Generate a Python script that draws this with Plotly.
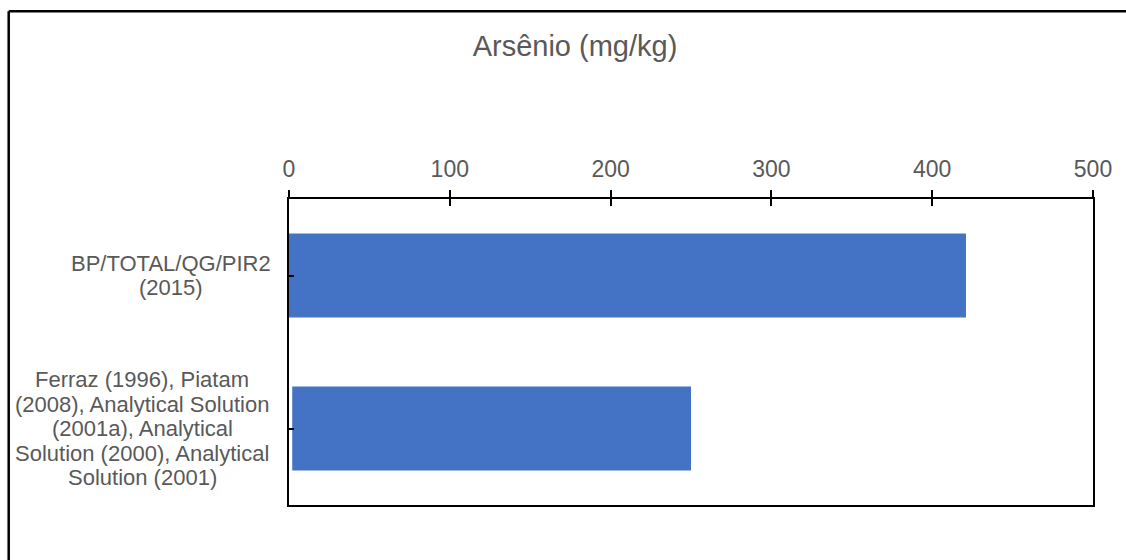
import plotly.graph_objects as go

# Arsenic concentration (mg/kg) by source
categories = [
    "BP/TOTAL/QG/PIR2<br>(2015)",
    "Ferraz (1996), Piatam<br>(2008), Analytical Solution<br>(2001a), Analytical<br>Solution (2000), Analytical<br>Solution (2001)",
]
bar_start = [0, 2]
bar_end = [421, 250]
x_ticks = [0, 100, 200, 300, 400, 500]

W, H = 1126, 560
L, R, T, B = 289, 33, 199, 55
TXT = "#595959"
BLUE = "#4472C4"
FONT = "Liberation Sans, Arial, sans-serif"
LABEL_SIZE = 22
LINE_STEP = 24.5          # px between wrapped label lines
LABEL_CENTER_PX = [171, 142]  # horizontal centre of each wrapped label block

fig = go.Figure()
fig.add_trace(go.Bar(
    y=list(range(len(categories))),
    x=[e - s for s, e in zip(bar_start, bar_end)],
    base=bar_start,
    orientation="h",
    marker=dict(color=BLUE, line=dict(width=0)),
    hoverinfo="skip",
    showlegend=False,
))
# second, overlaying axis only carries the inner half of the crossing ticks
fig.add_trace(go.Scatter(x=[None], y=[None], xaxis="x2", showlegend=False))

fig.update_layout(
    width=W, height=H,
    margin=dict(l=L, r=R, t=T, b=B),
    paper_bgcolor="white", plot_bgcolor="white",
    font=dict(family=FONT, color=TXT),
    bargap=0.45,
    title=dict(text="Arsênio (mg/kg)", x=575 / W, xanchor="center",
               y=1 - 46 / H, yanchor="middle", yref="container",
               font=dict(size=29, color=TXT, family=FONT)),
    xaxis=dict(
        side="top", range=[0, 500], tickvals=x_ticks,
        showgrid=False, zeroline=False,
        showline=True, linecolor="black", linewidth=2, mirror=True,
        ticks="outside", ticklen=7, tickwidth=2, tickcolor="black",
        tickfont=dict(size=23, color=TXT), ticklabelstandoff=4,
    ),
    xaxis2=dict(
        overlaying="x", side="top", range=[0, 500], tickvals=x_ticks,
        showgrid=False, zeroline=False, showline=False,
        ticks="inside", ticklen=7, tickwidth=2, tickcolor="black",
        showticklabels=False,
    ),
    yaxis=dict(
        range=[len(categories) - 0.5, -0.5],
        tickvals=list(range(len(categories))),
        showticklabels=False, showgrid=False, zeroline=False,
        showline=True, linecolor="black", linewidth=2, mirror=True,
        ticks="inside", ticklen=5, tickwidth=2, tickcolor="black",
    ),
)

px = lambda v: (v - L) / (W - L - R)
py = lambda v: (H - B - v) / (H - T - B)

# category labels, wrapped and centred line by line
for i, label in enumerate(categories):
    lines = label.split("<br>")
    n = len(lines)
    for j, line in enumerate(lines):
        fig.add_annotation(
            text=line, x=px(LABEL_CENTER_PX[i]), xref="paper", y=i, yref="y",
            xanchor="center", yanchor="middle",
            yshift=((n - 1) / 2 - j) * LINE_STEP,
            showarrow=False, font=dict(size=LABEL_SIZE, color=TXT, family=FONT),
        )

# frame lines along the top and left edges
fig.add_shape(type="line", xref="paper", yref="paper",
              x0=px(8.7), x1=px(W + 2), y0=py(11.3), y1=py(11.3),
              line=dict(color="black", width=2.5))
fig.add_shape(type="line", xref="paper", yref="paper",
              x0=px(8.7), x1=px(8.7), y0=py(11.3), y1=py(H + 2),
              line=dict(color="black", width=2.5))

fig.write_html("out.html")
